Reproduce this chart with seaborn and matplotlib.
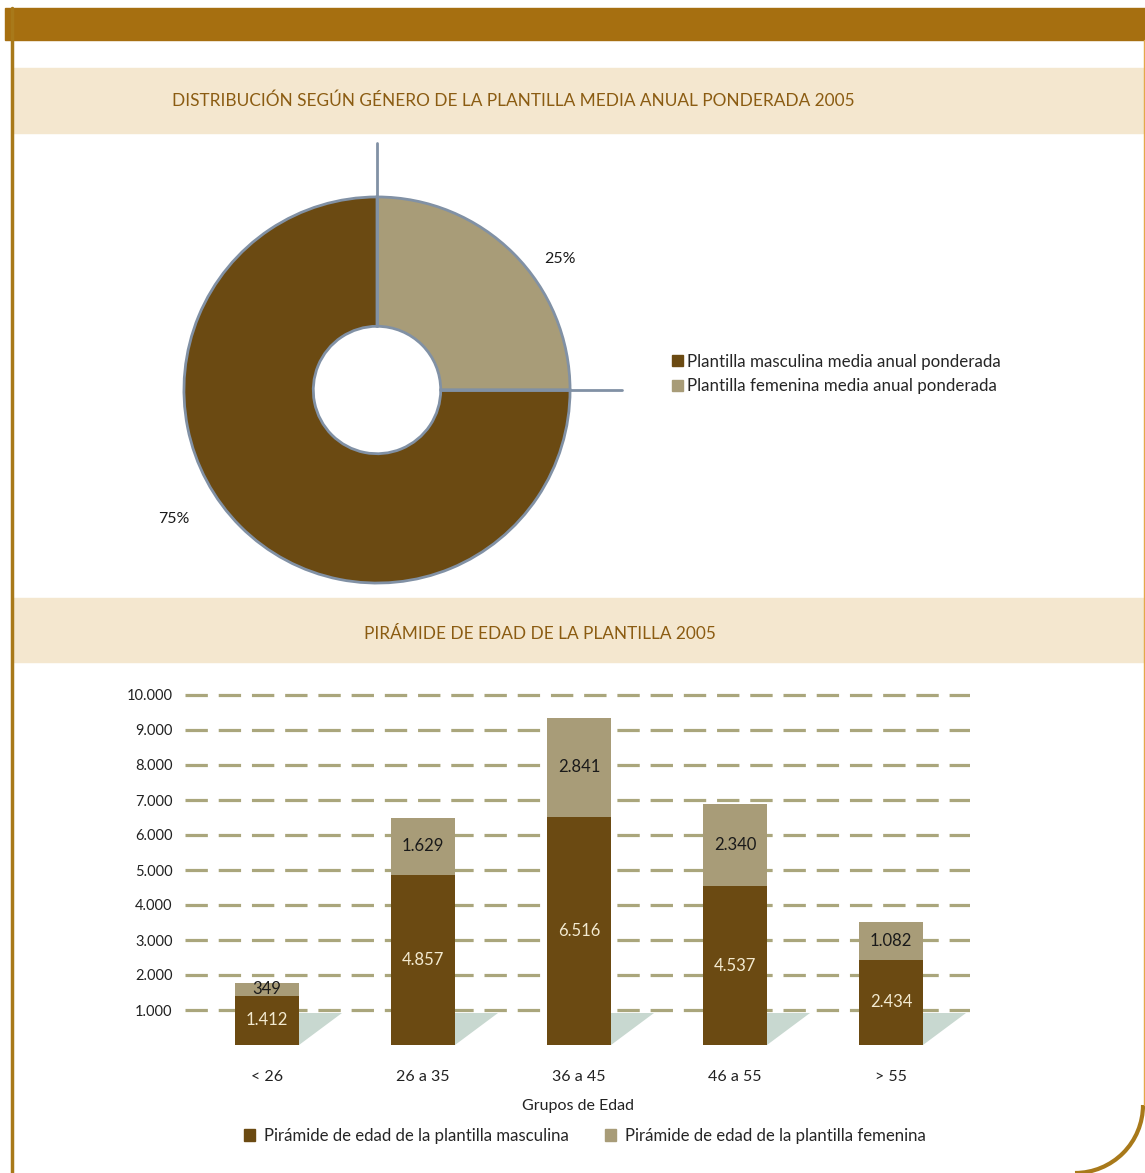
import pandas as pd
import seaborn as sns
import matplotlib.pyplot as plt
from matplotlib.patches import Rectangle, Arc, Patch

# Data
genero_labels = ['Plantilla masculina media anual ponderada',
                 'Plantilla femenina media anual ponderada']
genero_pct = [75, 25]

grupos = ['< 26', '26 a 35', '36 a 45', '46 a 55', '> 55']
masculina = [1412, 4857, 6516, 4537, 2434]
femenina = [349, 1629, 2841, 2340, 1082]
y_ticks = [1000, 2000, 3000, 4000, 5000, 6000, 7000, 8000, 9000, 10000]

titulo1 = 'DISTRIBUCIÓN SEGÚN GÉNERO DE LA PLANTILLA MEDIA ANUAL PONDERADA 2005'
titulo2 = 'PIRÁMIDE DE EDAD DE LA PLANTILLA 2005'
leyenda2 = ['Pirámide de edad de la plantilla masculina',
            'Pirámide de edad de la plantilla femenina']

MALE = '#6b4a12'
FEMALE = '#a89c78'
EDGE = '#8191a5'
BAND = '#f4e7cf'
GOLD = '#a66f10'
TITLE_C = '#8b5c12'
GRID = '#aaa67c'
SHADOW = '#c8d8d0'

sns.set_theme(style='white')
plt.rcParams['font.family'] = ['Lato', 'DejaVu Sans']


def fmt(v):
    return f'{v:,}'.replace(',', '.')


W, H = 1145, 1173
fig = plt.figure(figsize=(W / 100, H / 100), dpi=100)


def px_axes(x0, y0, x1, y1):
    return fig.add_axes([x0 / W, 1 - y1 / H, (x1 - x0) / W, (y1 - y0) / H])


# page decoration, drawn in pixel coordinates
bg = fig.add_axes([0, 0, 1, 1])
bg.set_xlim(0, W)
bg.set_ylim(H, 0)
bg.axis('off')
bg.add_patch(Rectangle((5, 8), W - 5, 32, color=GOLD))
bg.plot([11.5, 11.5], [8, H], color='#a8791a', lw=2.5)
bg.plot([1143.5, 1143.5], [40, 1105], color='#e4a84a', lw=1)
bg.add_patch(Arc((1075, 1105), 136, 136, theta1=0, theta2=90, color='#a8791a', lw=3))
bg.add_patch(Rectangle((13, 68), W - 13, 65, color=BAND))
bg.add_patch(Rectangle((13, 598), W - 13, 64, color=BAND))
bg.text(172, 101, titulo1, ha='left', va='center', color=TITLE_C, fontsize=12.4)
bg.text(540, 634, titulo2, ha='center', va='center', color=TITLE_C, fontsize=12.4)

# donut
ax1 = px_axes(177, 190, 577, 590)
wedges, _ = ax1.pie([genero_pct[1], genero_pct[0]], colors=[FEMALE, MALE],
                    startangle=90, counterclock=False, radius=1,
                    wedgeprops=dict(width=0.67, edgecolor=EDGE, linewidth=2))
ax1.set_xlim(-1.036, 1.036)
ax1.set_ylim(-1.036, 1.036)
ax1.axis('off')
ax1.plot([0, 0], [0.33, 1.28], color=EDGE, lw=2, clip_on=False)
ax1.plot([0.33, 1.27], [0, 0], color=EDGE, lw=2, clip_on=False)
ax1.text(0.95, 0.68, f'{genero_pct[1]}%', ha='center', va='center', fontsize=11.5, color='#1a1a1a')
ax1.text(-1.05, -0.67, f'{genero_pct[0]}%', ha='center', va='center', fontsize=11.5, color='#1a1a1a')

fig.legend(handles=[Patch(color=MALE), Patch(color=FEMALE)], labels=genero_labels,
           loc='upper left', bbox_to_anchor=(665 / W, 1 - 347 / H), frameon=False,
           fontsize=12.2, handlelength=0.65, handleheight=0.65, handletextpad=0.25,
           labelspacing=0.5, borderaxespad=0)

# stacked bars
df = pd.DataFrame({'grupo': grupos, 'masculina': masculina, 'femenina': femenina})
df['total'] = df['masculina'] + df['femenina']

ax2 = px_axes(185, 1045 - 355.25, 970, 1045)
ax2.set_facecolor('none')
for v in y_ticks:
    ax2.axhline(v, color=GRID, lw=2.3, dashes=(7, 3.4), zorder=1)
sns.barplot(data=df, x='grupo', y='total', color=FEMALE, width=0.41, saturation=1,
            errorbar=None, ax=ax2, zorder=3, linewidth=0)
sns.barplot(data=df, x='grupo', y='masculina', color=MALE, width=0.41, saturation=1,
            errorbar=None, ax=ax2, zorder=3, linewidth=0)

for i, p in enumerate(ax2.patches[:len(grupos)]):
    r = p.get_x() + p.get_width()
    ax2.fill([r, r, r + 0.276], [0, 914, 914], color=SHADOW, lw=0, zorder=2)

for i, (m, f) in enumerate(zip(masculina, femenina)):
    ax2.text(i, m / 2, fmt(m), ha='center', va='center', color='#f3ead0', fontsize=12, zorder=4)
    ax2.text(i, m + f / 2, fmt(f), ha='center', va='center', color='#1a1a1a', fontsize=12, zorder=4)

ax2.set_xlim(-0.526, 4.506)
ax2.set_ylim(0, 10150)
ax2.set_yticks(y_ticks)
ax2.set_yticklabels([fmt(v) for v in y_ticks], fontsize=10.5, color='#222222')
ax2.tick_params(axis='y', length=0, pad=9)
ax2.tick_params(axis='x', length=0, pad=18, labelsize=11.5, labelcolor='#222222')
ax2.set_ylabel('')
ax2.set_xlabel('Grupos de Edad', fontsize=11.5, color='#222222', labelpad=11)
sns.despine(ax=ax2, left=True, bottom=True)

fig.legend(handles=[Patch(color=MALE), Patch(color=FEMALE)], labels=leyenda2,
           loc='center', bbox_to_anchor=(585 / W, 1 - 1136 / H), ncol=2, frameon=False,
           fontsize=12.1, handlelength=0.65, handleheight=0.65, handletextpad=0.5,
           columnspacing=2.2, borderaxespad=0)

fig.savefig('out.png', dpi=100)
